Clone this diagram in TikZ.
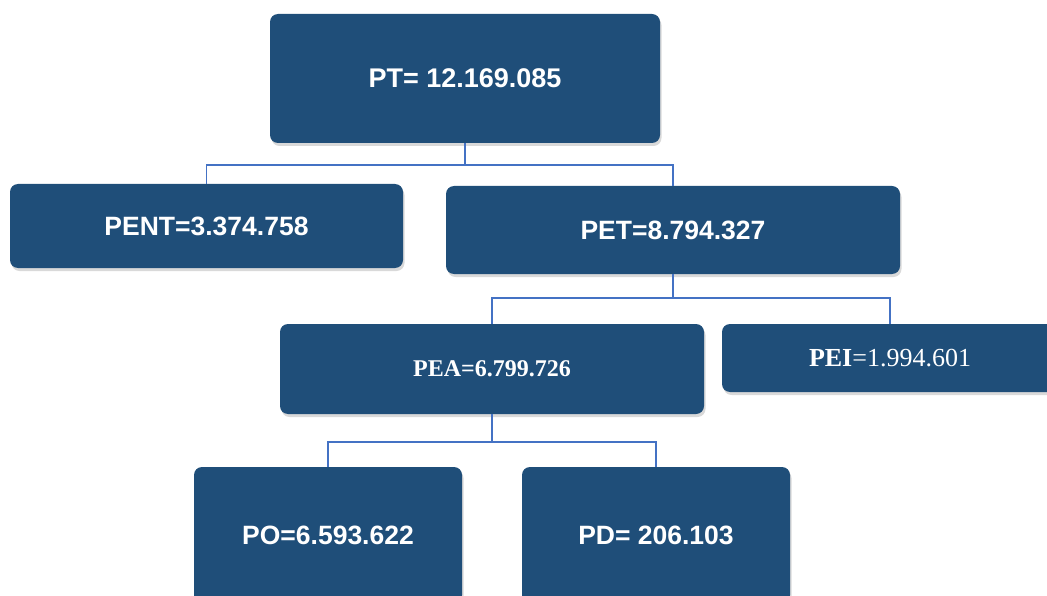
\documentclass[tikz,border=0pt]{standalone}
\usepackage{fontspec}
\setmainfont{Liberation Sans}
\newfontfamily\timesf{Liberation Serif}
\usetikzlibrary{shadows}
\definecolor{boxblue}{HTML}{1F4E79}
\definecolor{lineblue}{HTML}{4472C4}
\tikzset{
  box/.style={fill=boxblue, rounded corners=8pt, text=white,
    font=\fontsize{26.5}{30}\selectfont\bfseries, inner sep=0pt,
    drop shadow={opacity=0.3, shadow xshift=1.5pt, shadow yshift=-3pt}},
  serifbox/.style={box, font=\timesf\fontsize{24}{28}\selectfont\bfseries},
  link/.style={draw=lineblue, line width=1.3pt}
}
\begin{document}
\begin{tikzpicture}[x=1pt,y=-1pt]
\useasboundingbox (0,0) rectangle (1047,596);
\clip (0,0) rectangle (1047,596);
\node[box, font=\fontsize{27}{30}\selectfont\bfseries, minimum width=390pt, minimum height=129pt] (pt) at (465,78.5) {PT= 12.169.085};
\node[box, minimum width=393pt, minimum height=84pt] (pent) at (206.5,226) {PENT=3.374.758};
\node[box, minimum width=454pt, minimum height=88pt] (pet) at (673,230) {PET=8.794.327};
\node[serifbox, minimum width=424pt, minimum height=90pt] (pea) at (492,369) {PEA=6.799.726};
\node[serifbox, font=\timesf\fontsize{26}{30}\selectfont, minimum width=336pt, minimum height=68pt] (pei) at (890,358) {\textbf{PEI}=1.994.601};
\node[box, minimum width=268pt, minimum height=136pt] (po) at (328,535) {PO=6.593.622};
\node[box, minimum width=268pt, minimum height=136pt] (pd) at (656,535) {PD= 206.103};
\coordinate (j1) at (465,165);
\coordinate (j2) at (673,298);
\coordinate (j3) at (492,442);
\draw[link] (pt.south) -- (j1);
\draw[link] (j1) -| (pent.north);
\draw[link] (j1) -| (pet.north);
\draw[link] (pet.south) -- (j2);
\draw[link] (j2) -| (pea.north);
\draw[link] (j2) -| (pei.north);
\draw[link] (pea.south) -- (j3);
\draw[link] (j3) -| (po.north);
\draw[link] (j3) -| (pd.north);
\end{tikzpicture}
\end{document}
